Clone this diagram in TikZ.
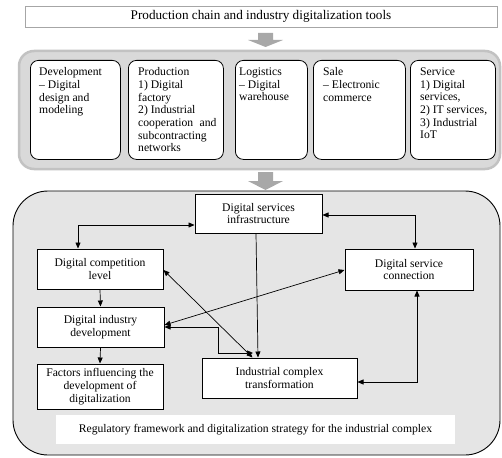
\documentclass[tikz,border=0pt]{standalone}
\usepackage{fontspec}
\setmainfont{Liberation Serif}
\usetikzlibrary{arrows.meta}
\newcommand\fsz{\fontsize{11.65}{12.7}\selectfont}
\newcommand\fsztitle{\fontsize{13.2}{14}\selectfont}
\definecolor{cfill}{gray}{0.85}
\definecolor{cborder}{gray}{0.76}
\definecolor{cbg}{gray}{0.90}
\definecolor{arrowgray}{gray}{0.66}
\begin{document}
\begin{tikzpicture}[x=1pt,y=-1pt,
  tip/.style={-{Triangle[length=6pt,width=5pt]}},
  dbl/.style={{Triangle[length=6pt,width=5pt]}-{Triangle[length=6pt,width=5pt]}},
  conn/.style={draw=black, line width=0.7pt},
  ibox/.style={draw=black, line width=0.8pt, fill=white, rounded corners=8pt, anchor=north west, inner sep=0pt, minimum height=99pt},
  itext/.style={anchor=north west, align=left, inner sep=0pt, font=\fsz},
  bbox/.style={draw=black, line width=1pt, fill=white, align=center, inner sep=0pt, font=\fsz},
]
\useasboundingbox (0,0) rectangle (502,457);

% title
\node[draw=gray!70, fill=white, minimum width=472pt, minimum height=21pt, inner sep=0pt, font=\fsztitle] (title) at (261,16.5) {Production chain and industry digitalization tools};

% block arrows
\fill[arrowgray] (258,33) -- (273,33) -- (273,40) -- (283,40) -- (265.5,47) -- (248,40) -- (258,40) -- cycle;
\fill[arrowgray] (258,172) -- (273,172) -- (273,181) -- (283,181) -- (265.5,190) -- (248,181) -- (258,181) -- cycle;

% container A
\draw[draw=cborder, line width=2.5pt, fill=cfill, rounded corners=15pt] (19,51) rectangle (500,169);

\node[ibox, minimum width=90pt] (dev) at (30,60) {};
\node[ibox, minimum width=95pt] (prod) at (128,60) {};
\node[ibox, minimum width=72pt] (log) at (235,60) {};
\node[ibox, minimum width=92pt] (sale) at (313,60) {};
\node[ibox, minimum width=85pt] (serv) at (410,60) {};

\node[itext] (devt) at (39,67.5) {Development\\– Digital\\design and\\modeling};
\node[itext] (prodt) at (138,67.5) {Production\\1) Digital\\factory\\2) Industrial\\cooperation\hspace{0.55em}and\\subcontracting\\networks};
\node[itext] (logt) at (239,67.5) {Logistics\\– Digital\\warehouse};
\node[itext] (salet) at (323,67.5) {Sale\\– Electronic\\commerce};
\node[itext] (servt) at (420,67.5) {Service\\1) Digital\\services,\\2) IT services,\\3) Industrial\\IoT};

% container B
\draw[fill=cbg, line width=0.9pt, rounded corners=35pt] (13,191) rectangle (500,455);

\node[fill=white, minimum width=399pt, minimum height=29pt, inner sep=0pt, font=\fsz] (reg) at (255.5,429.5) {Regulatory framework and digitalization strategy for the industrial complex};

\node[bbox, minimum width=127pt, minimum height=39pt] (dsi) at (258.5,213.5) {Digital services\\infrastructure};
\node[bbox, minimum width=126pt, minimum height=40pt] (dcl) at (100,269) {Digital competition\\level};
\node[bbox, minimum width=127pt, minimum height=40pt] (did) at (100.5,327) {Digital industry\\development};
\node[bbox, minimum width=126pt, minimum height=45pt] (fac) at (100,386.5) {Factors influencing the\\development of\\digitalization};
\node[bbox, minimum width=155pt, minimum height=40pt] (ict) at (279.5,378) {Industrial complex\\transformation};
\node[bbox, minimum width=128pt, minimum height=41pt] (dsc) at (409,269.5) {Digital service\\connection};

% connectors
\coordinate (c1) at (78,225);
\draw[conn,dbl] (dsi.west |- c1) -| (dcl.north -| c1);
\coordinate (c2) at (415,215);
\draw[conn,dbl] (dsi.east |- c2) -| (dsc.north -| c2);
\draw[conn,tip] ([xshift=-2.5pt]dsi.south) -- ([xshift=-21.5pt]ict.north);
\draw[conn,tip] (dcl.south) -- (did.north);
\draw[conn,tip] (did.south) -- (fac.north);
\draw[conn,dbl] ([yshift=-1pt]dcl.east) -- ([xshift=-27pt]ict.north);
\draw[conn,dbl] ([yshift=2pt]did.east) -- ([yshift=-0.5pt]dsc.west);
\coordinate (c6) at (218,353);
\coordinate (c6e) at (253,353);
\draw[conn,dbl] (did.east) -| (c6) -- (c6e);
\coordinate (c7) at (417,382);
\draw[conn,dbl] (ict.east |- c7) -| (dsc.south -| c7);
\end{tikzpicture}
\end{document}
